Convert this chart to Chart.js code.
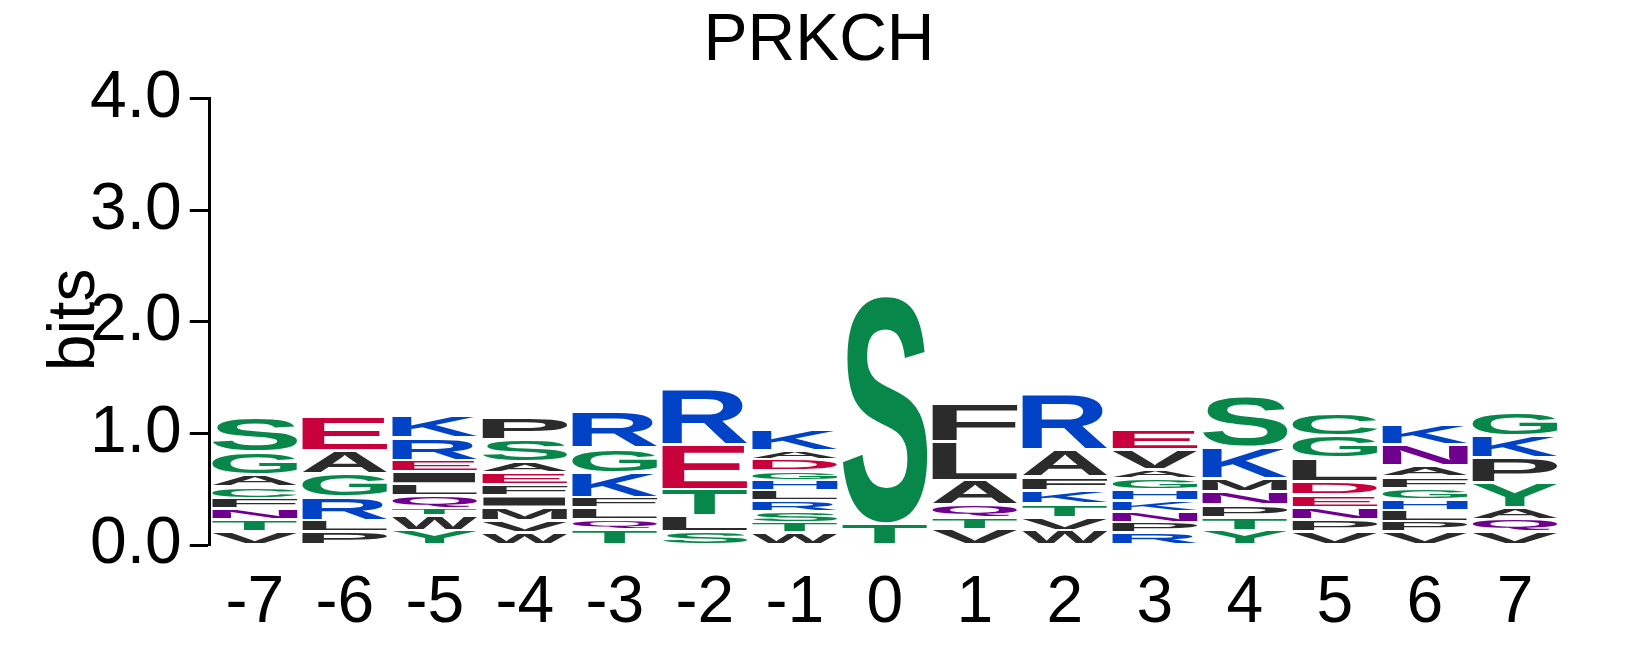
<!DOCTYPE html>
<html>
<head>
<meta charset="utf-8">
<script src="https://cdn.jsdelivr.net/npm/chart.js@4.4.1/dist/chart.umd.min.js"></script>
<style>
  html, body { margin: 0; padding: 0; background: #fff; }
  #wrap { width: 1639px; height: 661px; }
</style>
</head>
<body>
<div id="wrap"><canvas id="logo"></canvas></div>
<script>
// positions of the motif, left to right
const positions = ['-7','-6','-5','-4','-3','-2','-1','0','1','2','3','4','5','6','7'];

// letters in each column, bottom to top
const letters = [
  ['V','T','N','F','C','A','G','S'],
  ['P','L','R','G','A','E'],
  ['Y','W','T','Q','L','I','E','R','K'],
  ['W','V','M','I','F','E','A','S','P'],
  ['T','Q','L','F','K','G','R'],
  ['S','L','T','E','R'],
  ['W','T','S','R','L','H','G','D','A','K'],
  ['T','S'],
  ['V','T','Q','A','L','F'],
  ['W','V','T','K','F','A','R'],
  ['R','P','N','K','H','G','A','V','E'],
  ['Y','T','P','N','M','K','S'],
  ['V','P','N','E','D','L','G','C'],
  ['V','P','L','H','G','F','A','N','K'],
  ['V','Q','A','Y','P','K','G']
];

// height of each letter in bits, same order
const heights = [
  [0.12,0.11,0.10,0.09,0.10,0.11,0.20,0.31],
  [0.12,0.10,0.21,0.21,0.21,0.30],
  [0.13,0.13,0.07,0.11,0.11,0.11,0.10,0.20,0.20],
  [0.11,0.11,0.12,0.10,0.10,0.11,0.10,0.20,0.20],
  [0.14,0.09,0.11,0.09,0.22,0.22,0.33],
  [0.12,0.14,0.24,0.40,0.50],
  [0.11,0.09,0.10,0.10,0.09,0.09,0.09,0.10,0.08,0.19],
  [0.19,2.05],
  [0.14,0.11,0.11,0.22,0.35,0.34],
  [0.13,0.12,0.12,0.12,0.12,0.24,0.50],
  [0.11,0.09,0.10,0.10,0.10,0.10,0.08,0.18,0.18],
  [0.13,0.12,0.11,0.12,0.12,0.28,0.46],
  [0.12,0.11,0.11,0.11,0.12,0.21,0.20,0.20],
  [0.12,0.09,0.10,0.10,0.10,0.10,0.10,0.19,0.18],
  [0.12,0.11,0.11,0.22,0.22,0.20,0.22]
];

const yTicks = [0, 1, 2, 3, 4];

// chemistry colouring
const green = '#07884a', red = '#c8003c', blue = '#0043c6', purple = '#6f008f', dark = '#2b2b2b';
const letterColor = {
  G: green, S: green, T: green, Y: green, C: green,
  K: blue, R: blue, H: blue,
  D: red, E: red,
  N: purple, Q: purple,
  A: dark, V: dark, L: dark, I: dark, P: dark, W: dark, F: dark, M: dark
};

// one dataset per stack level
const levels = Math.max(...letters.map(c => c.length));
const datasets = [];
for (let k = 0; k < levels; k++) {
  datasets.push({
    label: 'level ' + k,
    data: heights.map(col => col[k] !== undefined ? col[k] : null),
    letters: letters.map(col => col[k] || ''),
    backgroundColor: 'rgba(0,0,0,0)',
    borderWidth: 0,
    barPercentage: 0.944,
    categoryPercentage: 1
  });
}

const fam = '"Liberation Sans", Arial, sans-serif';
const glyphFont = 'bold 200px ' + fam;
const letterPlugin = {
  id: 'letters',
  afterDatasetsDraw(chart) {
    const ctx = chart.ctx;
    ctx.save();
    ctx.font = glyphFont;
    ctx.textAlign = 'left';
    ctx.textBaseline = 'alphabetic';
    chart.data.datasets.forEach((ds, di) => {
      const meta = chart.getDatasetMeta(di);
      meta.data.forEach((bar, i) => {
        const ch = ds.letters[i];
        if (!ch) return;
        const p = bar.getProps(['x', 'y', 'base', 'width'], true);
        const top = Math.min(p.y, p.base) + 1.5;
        const bottom = Math.max(p.y, p.base) - 1.5;
        const h = bottom - top;
        if (h <= 0) return;
        const left = p.x - p.width / 2;
        const m = ctx.measureText(ch);
        const gw = m.actualBoundingBoxLeft + m.actualBoundingBoxRight;
        const gh = m.actualBoundingBoxAscent + m.actualBoundingBoxDescent;
        ctx.save();
        ctx.translate(left, bottom);
        ctx.scale(p.width / gw, h / gh);
        ctx.fillStyle = letterColor[ch] || dark;
        ctx.fillText(ch, m.actualBoundingBoxLeft, -m.actualBoundingBoxDescent);
        ctx.restore();
      });
    });
    ctx.restore();
  }
};

const bitsLabel = {
  id: 'bitsLabel',
  afterDraw(chart) {
    const a = chart.chartArea;
    const ctx = chart.ctx;
    ctx.save();
    ctx.translate(a.left - 116, (a.top + a.bottom) / 2 - 2);
    ctx.rotate(-Math.PI / 2);
    ctx.font = '66px ' + fam;
    ctx.fillStyle = '#000';
    ctx.textAlign = 'center';
    ctx.textBaseline = 'alphabetic';
    ctx.fillText('bits', 0, 0);
    ctx.restore();
  }
};

new Chart(document.getElementById('logo'), {
  type: 'bar',
  data: { labels: positions, datasets: datasets },
  options: {
    responsive: true,
    maintainAspectRatio: false,
    animation: false,
    layout: { padding: { left: 78, right: 79, top: 0, bottom: -2 } },
    plugins: {
      legend: { display: false },
      tooltip: { enabled: false },
      title: {
        display: true,
        text: 'PRKCH',
        color: '#000',
        font: { family: fam, size: 66, weight: 'normal' },
        padding: { top: 2, bottom: 17.6 }
      }
    },
    scales: {
      x: {
        stacked: true,
        grid: { display: false, drawTicks: false, tickLength: 0 },
        border: { display: false },
        ticks: {
          color: '#000',
          padding: 26,
          maxRotation: 0,
          font: { family: fam, size: 66, lineHeight: 1 }
        }
      },
      y: {
        stacked: true,
        min: yTicks[0],
        max: yTicks[yTicks.length - 1],
        afterBuildTicks(scale) { scale.ticks = yTicks.map(v => ({ value: v })); },
        afterFit(scale) { scale.width += 4; },
        grid: { drawOnChartArea: false, tickLength: 20, tickWidth: 3, color: '#000' },
        border: { display: true, width: 3, color: '#000' },
        ticks: {
          color: '#000',
          padding: 8,
          callback: v => Number(v).toFixed(1),
          font: { family: fam, size: 66 }
        }
      }
    }
  },
  plugins: [letterPlugin, bitsLabel]
});
</script>
</body>
</html>
